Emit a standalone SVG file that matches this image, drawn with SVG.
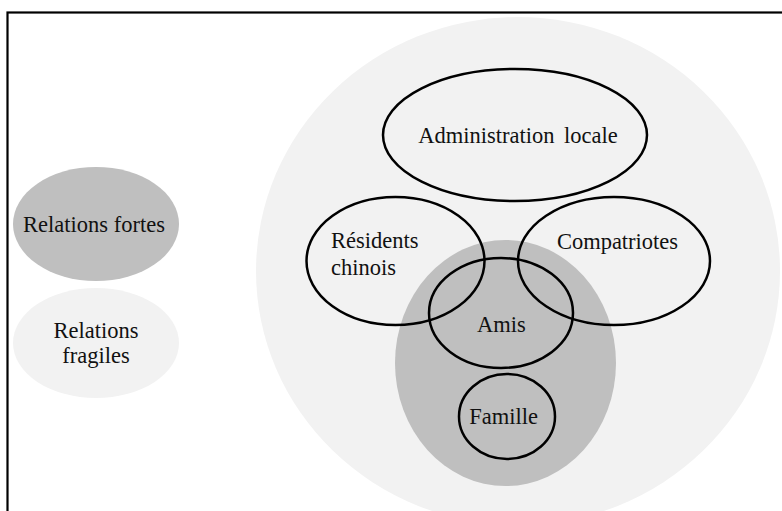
<svg xmlns="http://www.w3.org/2000/svg" width="782" height="511" viewBox="0 0 782 511">
<rect x="0" y="0" width="782" height="511" fill="#fff"/>
<rect x="7.5" y="12.5" width="800" height="520" fill="none" stroke="#000" stroke-width="2.2"/>
<g id="legend-fortes">
<ellipse fill="#bfbfbf" cx="96" cy="224" rx="83" ry="57"/>
<text font-family="Liberation Serif" font-size="22.5" fill="#111" text-anchor="middle" x="94" y="232">Relations fortes</text>
</g>
<g id="legend-fragiles">
<ellipse fill="#f2f2f2" cx="96" cy="343" rx="83" ry="55"/>
<text font-family="Liberation Serif" font-size="22.5" fill="#111" text-anchor="middle" x="96" y="338">Relations</text>
<text font-family="Liberation Serif" font-size="22.5" fill="#111" text-anchor="middle" x="96" y="363">fragiles</text>
</g>
<g id="zone-fragiles">
<ellipse fill="#f2f2f2" cx="518" cy="271" rx="262" ry="254"/>
</g>
<g id="zone-fortes">
<ellipse fill="#bfbfbf" cx="505.5" cy="363" rx="110.5" ry="123"/>
</g>
<g id="administration">
<ellipse fill="none" stroke="#000" stroke-width="2.5" cx="515" cy="135" rx="132" ry="66"/>
<text font-family="Liberation Serif" font-size="22.5" fill="#111" text-anchor="middle" x="518" y="143" word-spacing="4">Administration locale</text>
</g>
<g id="residents">
<ellipse fill="none" stroke="#000" stroke-width="2.5" cx="395.5" cy="261" rx="89" ry="64"/>
<text font-family="Liberation Serif" font-size="22.5" fill="#111" x="331" y="248">R&#233;sidents</text>
<text font-family="Liberation Serif" font-size="22.5" fill="#111" x="331" y="275">chinois</text>
</g>
<g id="compatriotes">
<ellipse fill="none" stroke="#000" stroke-width="2.5" cx="614" cy="261" rx="96" ry="64"/>
<text font-family="Liberation Serif" font-size="22.5" fill="#111" text-anchor="middle" x="617.5" y="249">Compatriotes</text>
</g>
<g id="amis">
<ellipse fill="none" stroke="#000" stroke-width="2.5" cx="501" cy="313" rx="72" ry="55"/>
<text font-family="Liberation Serif" font-size="22.5" fill="#111" text-anchor="middle" x="501.5" y="332">Amis</text>
</g>
<g id="famille">
<ellipse fill="none" stroke="#000" stroke-width="2.5" cx="507" cy="416.5" rx="48" ry="42.5"/>
<text font-family="Liberation Serif" font-size="22.5" fill="#111" text-anchor="middle" x="503.5" y="424">Famille</text>
</g>
<g id="connectors"></g>
</svg>
